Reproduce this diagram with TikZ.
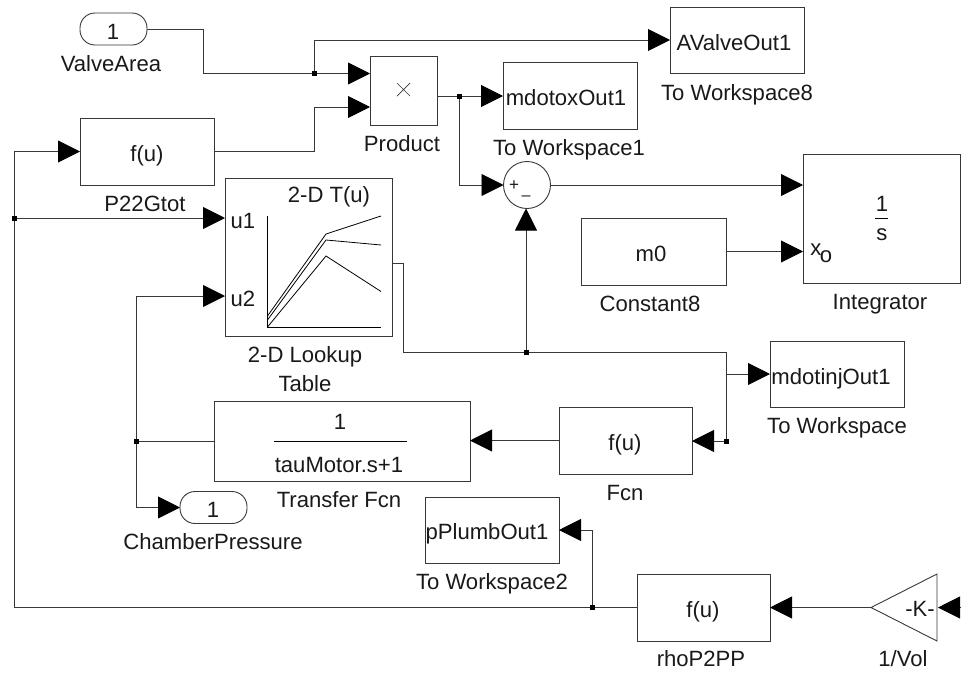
\documentclass[tikz,border=0pt]{standalone}
\usepackage{fontspec}
\setmainfont{Liberation Sans}
\usetikzlibrary{arrows.meta,calc}
\definecolor{ln}{gray}{0.22}
\tikzset{
  x=1pt,y=-1pt,
  every node/.style={font=\fontsize{22.1}{24}\selectfont,text=black!90},
  blk/.style={draw=ln,line width=0.9pt,rectangle,inner sep=0pt,outer sep=0pt,fill=white},
  port/.style={blk,rounded corners=15pt,minimum width=67pt,minimum height=32pt},
  wire/.style={draw=ln,line width=0.9pt},
  arr/.style={wire,-{Triangle[length=22pt,width=22pt,color=black]}},
  jn/.style={fill=black,rectangle,inner sep=0pt,outer sep=0pt,minimum size=5pt},
  txt/.style={anchor=base,inner sep=0pt,outer sep=0pt},
}
\begin{document}
\begin{tikzpicture}
\useasboundingbox (0,0) rectangle (961,673);
% blocks
\node[port] (inp) at (113.5,29) {};
\node[blk,minimum width=67pt,minimum height=69pt] (prod) at (403.5,90.5) {};
\node[blk,minimum width=134pt,minimum height=67pt] (p22) at (147,151.5) {};
\node[blk,minimum width=167pt,minimum height=158pt] (lut) at (308.5,257) {};
\node[blk,minimum width=134pt,minimum height=66pt] (avo) at (737,40) {};
\node[blk,minimum width=134pt,minimum height=67pt] (mdox) at (570,95.5) {};
\node[blk,circle,minimum size=47pt] (sum) at (527,185) {};
\node[blk,minimum width=157pt,minimum height=129pt] (integ) at (881.5,218.5) {};
\node[blk,minimum width=145pt,minimum height=67pt] (cst) at (653.5,251.5) {};
\node[blk,minimum width=134pt,minimum height=66pt] (inj) at (837,374) {};
\node[blk,minimum width=133pt,minimum height=67pt] (fcn) at (625.5,440.5) {};
\node[blk,minimum width=256pt,minimum height=80pt] (tf) at (342,441) {};
\node[port] (outp) at (213.5,507.5) {};
\node[blk,minimum width=134pt,minimum height=66pt] (pp) at (492,530) {};
\node[blk,minimum width=133pt,minimum height=67pt] (rho) at (703.5,607.5) {};
\draw[draw=ln,line width=0.9pt] (871,607.5) -- (937,574) -- (937,641) -- cycle;
\coordinate (gaintip) at (871,607.5);
\coordinate (gainin) at (938,607.5);
\coordinate (edge) at (961,607.5);
% junctions
\node[jn] (j1) at (314,73.5) {};
\node[jn] (j2) at (459,96) {};
\node[jn] (j3) at (526,352) {};
\node[jn] (j4) at (726,441) {};
\node[jn] (j5) at (136,441) {};
\node[jn] (j6) at (592,607.5) {};
\node[jn] (j7) at (14,218) {};
\coordinate (c1) at (203,73.5);
\coordinate (c2) at (314,107);
\coordinate (c3) at (403,263);
\coordinate (c4) at (726,374);
\coordinate (c5) at (136,296);
% wires
\draw[wire] (inp.east) -| (c1) -- (j1);
\draw[arr] (j1) -- (prod.west |- j1);
\draw[arr] (j1) |- (avo.west);
\draw[wire] (p22.east) -| (c2);
\draw[arr] (c2) -- (prod.west |- c2);
\draw[wire] (prod.east |- j2) -- (j2);
\draw[arr] (j2) -- (mdox.west |- j2);
\draw[arr] (j2) |- (sum.west);
\draw[arr] (sum.east) -- (integ.west |- sum.east);
\draw[arr] (cst.east) -- (integ.west |- cst.east);
\draw[wire] (lut.east |- c3) -- (c3) |- (j3);
\draw[arr] (j3) -- (sum.south -| j3);
\draw[wire] (j3) -| (j4);
\draw[arr] (c4) -- (inj.west);
\draw[arr] (j4) -- (fcn.east |- j4);
\draw[arr] (fcn.west) -- (tf.east |- fcn.west);
\draw[wire] (tf.west) -- (j5);
\draw[arr] (j5) |- (lut.west |- c5);
\draw[arr] (j5) |- (outp.west);
\draw[arr] (j6) |- (pp.east);
\draw[wire] (rho.west) -- (j6);
\draw[wire] (j6) -| (j7);
\draw[arr] (j7) |- (p22.west);
\draw[arr] (j7) -- (lut.west |- j7);
\draw[arr] (gaintip) -- (rho.east);
\draw[arr] (edge) -- (gainin);
% block inner drawings
\draw[wire,line width=0.7pt] (397,83) -- (410,96) (410,83) -- (397,96);
\draw[wire,line width=0.8pt,draw=black] (267.5,216) -- (267.5,327) -- (381,327);
\draw[wire,line width=0.8pt,draw=black] (267.5,316) -- (326,234) -- (381,216);
\draw[wire,line width=0.8pt,draw=black] (267.5,320) -- (326,240) -- (381,245);
\draw[wire,line width=0.8pt,draw=black] (267.5,327) -- (326,256) -- (381,291.5);
\draw[wire,line width=0.8pt,draw=black] (274,441) -- (407,441);
\draw[wire,line width=0.8pt,draw=black] (875,218) -- (888,218);
% texts
\node[txt] (t01) at (113,39) {1};
\node[txt] (t02) at (111,71) {ValveArea};
\node[txt] (t03) at (402,151) {Product};
\node[txt] (t04) at (147,161) {f(u)};
\node[txt] (t05) at (145,211) {P22Gtot};
\node[txt] (t06) at (329,202) {2-D T(u)};
\node[txt] (t07) at (243,228) {u1};
\node[txt] (t08) at (243,306) {u2};
\node[txt] (t09) at (305,362) {2-D Lookup};
\node[txt] (t10) at (305,391) {Table};
\node[txt] (t11) at (340,429) {1};
\node[txt] (t12) at (339,472) {tauMotor.s+1};
\node[txt] (t13) at (339,507) {Transfer Fcn};
\node[txt] (t14) at (213,517) {1};
\node[txt] (t15) at (213,549) {ChamberPressure};
\node[txt] (t16) at (487,539) {pPlumbOut1};
\node[txt] (t17) at (492,589) {To Workspace2};
\node[txt] (t18) at (831,384) {mdotinjOut1};
\node[txt] (t19) at (837,433) {To Workspace};
\node[txt] (t20) at (625,450) {f(u)};
\node[txt] (t21) at (625,500) {Fcn};
\node[txt] (t22) at (703,617) {f(u)};
\node[txt] (t23) at (701,666) {rhoP2PP};
\node[txt] (t24) at (903,666) {1/Vol};
\node[txt] (t25) at (920,616) {-K-};
\node[txt] (t26) at (734,50) {AValveOut1};
\node[txt] (t27) at (737,100) {To Workspace8};
\node[txt] (t28) at (566,105) {mdotoxOut1};
\node[txt] (t29) at (569,155) {To Workspace1};
\node[txt] (t30) at (651,261) {m0};
\node[txt] (t31) at (650,311) {Constant8};
\node[txt] (t32) at (880,309) {Integrator};
\node[txt] (t33) at (882,211) {1};
\node[txt] (t34) at (882,240) {s};
\node[txt] (t35) at (816,255) {x};
\node[txt] (t36) at (826,262) {o};
\node[txt,font=\fontsize{17}{18}\selectfont] (t37) at (514,190.5) {+};
\node[txt,font=\fontsize{16}{18}\selectfont] (t38) at (526,200.5) {–};
\end{tikzpicture}
\end{document}
